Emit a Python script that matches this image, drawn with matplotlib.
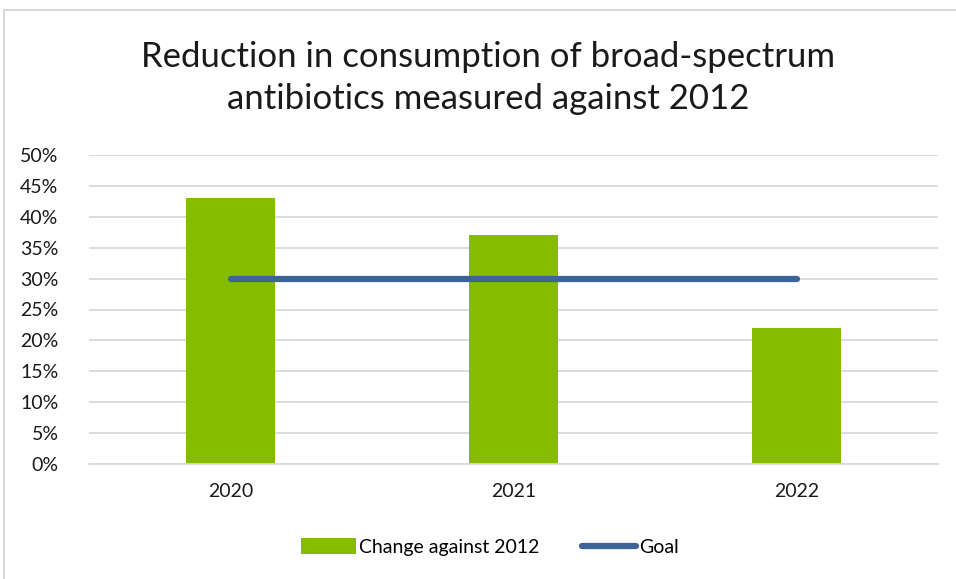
import matplotlib
matplotlib.use('Agg')
from matplotlib import pyplot as plt
from matplotlib.patches import Rectangle
from matplotlib.ticker import PercentFormatter
import numpy as np

years = ['2020', '2021', '2022']
change = [43, 37, 22]   # percent reduction vs 2012
goal = [30, 30, 30]

plt.rcParams['font.family'] = ['Lato', 'DejaVu Sans']

fig = plt.figure(figsize=(9.56, 5.79), dpi=100)
# outer chart border (light gray)
fig.patches.append(Rectangle((4 / 956, -0.05), 1.1, 1 - 10 / 579 + 0.05,
                             transform=fig.transFigure, fill=False,
                             edgecolor='#d9d9d9', linewidth=1.5))

ax = fig.add_axes([89 / 956, 1 - 464 / 579, (938 - 89) / 956, (464 - 155) / 579])
x = np.arange(len(years))
bars = ax.bar(x, change, 0.315, color='#86bc00', label='Change against 2012', zorder=2)
line, = ax.plot(x, goal, color='#3c6496', linewidth=4.5, solid_capstyle='round',
                label='Goal', zorder=3)

ax.set_xlim(-0.5, 2.5)
ax.set_ylim(0, 50)
ax.set_yticks(np.arange(0, 51, 5))
ax.yaxis.set_major_formatter(PercentFormatter(decimals=0))
ax.set_xticks(x)
ax.set_xticklabels(years)
ax.tick_params(length=0, labelsize=14, colors='#1a1a1a')
ax.tick_params(axis='x', pad=14)
ax.tick_params(axis='y', pad=22)
ax.grid(axis='y', color='#d9d9d9', linewidth=1.3, zorder=0)
ax.set_axisbelow(True)
for s in ['top', 'right', 'left']:
    ax.spines[s].set_visible(False)
ax.spines['bottom'].set_color('#d9d9d9')
ax.spines['bottom'].set_linewidth(1.3)

fig.text(488 / 956, 1 - 78 / 579,
         'Reduction in consumption of broad-spectrum\nantibiotics measured against 2012',
         ha='center', va='center', fontsize=25, color='#1a1a1a', linespacing=1.35)

fig.legend([bars, line], ['Change against 2012', 'Goal'], loc='center',
           bbox_to_anchor=(490 / 956, 1 - 547 / 579), ncol=2,
           frameon=False, fontsize=14, handlelength=2.8, handleheight=0.9,
           handletextpad=0.15, columnspacing=2.2)

plt.savefig('out.png', dpi=100)
